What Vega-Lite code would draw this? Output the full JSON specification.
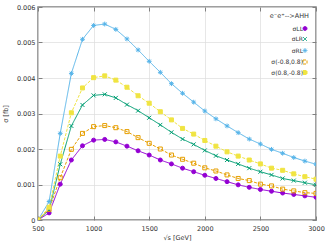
{
  "$schema": "https://vega.github.io/schema/vega-lite/v6.json",
  "width": 278,
  "height": 213,
  "autosize": {"type": "none"},
  "padding": {"left": 38, "top": 7, "right": 11, "bottom": 25},
  "config": {
    "font": "DejaVu Sans",
    "view": {"stroke": "#808080", "strokeWidth": 1.5},
    "axis": {
      "labelFont": "DejaVu Sans", "labelFontSize": 6.5, "labelColor": "#333",
      "titleFont": "DejaVu Sans", "titleFontSize": 6.5, "titleFontWeight": "normal", "titleColor": "#333",
      "domain": false, "gridColor": "#dddddd", "gridWidth": 0.7,
      "tickColor": "#808080", "tickSize": -4, "tickWidth": 1
    },
    "legend": {"labelFont": "DejaVu Sans", "titleFont": "DejaVu Sans"}
  },
  "data": {"values": [
    {"s":500,"series":"σLL","sigma":0},{"s":600,"series":"σLL","sigma":0.0002},{"s":700,"series":"σLL","sigma":0.00101},{"s":800,"series":"σLL","sigma":0.00169},{"s":900,"series":"σLL","sigma":0.00209},{"s":1000,"series":"σLL","sigma":0.00225},{"s":1100,"series":"σLL","sigma":0.00227},{"s":1200,"series":"σLL","sigma":0.0022},{"s":1300,"series":"σLL","sigma":0.00208},{"s":1400,"series":"σLL","sigma":0.00195},{"s":1500,"series":"σLL","sigma":0.00183},{"s":1600,"series":"σLL","sigma":0.00169},{"s":1700,"series":"σLL","sigma":0.00158},{"s":1800,"series":"σLL","sigma":0.00146},{"s":1900,"series":"σLL","sigma":0.00136},{"s":2000,"series":"σLL","sigma":0.00126},{"s":2100,"series":"σLL","sigma":0.00117},{"s":2200,"series":"σLL","sigma":0.00108},{"s":2300,"series":"σLL","sigma":0.00099},{"s":2400,"series":"σLL","sigma":0.00092},{"s":2500,"series":"σLL","sigma":0.00086},{"s":2600,"series":"σLL","sigma":0.00081},{"s":2700,"series":"σLL","sigma":0.00076},{"s":2800,"series":"σLL","sigma":0.00072},{"s":2900,"series":"σLL","sigma":0.00068},{"s":3000,"series":"σLL","sigma":0.00064},
    {"s":500,"series":"σLR","sigma":0},{"s":600,"series":"σLR","sigma":0.00028},{"s":700,"series":"σLR","sigma":0.00157},{"s":800,"series":"σLR","sigma":0.00265},{"s":900,"series":"σLR","sigma":0.00324},{"s":1000,"series":"σLR","sigma":0.00351},{"s":1100,"series":"σLR","sigma":0.00354},{"s":1200,"series":"σLR","sigma":0.00344},{"s":1300,"series":"σLR","sigma":0.00325},{"s":1400,"series":"σLR","sigma":0.00308},{"s":1500,"series":"σLR","sigma":0.00288},{"s":1600,"series":"σLR","sigma":0.00268},{"s":1700,"series":"σLR","sigma":0.00247},{"s":1800,"series":"σLR","sigma":0.00228},{"s":1900,"series":"σLR","sigma":0.00213},{"s":2000,"series":"σLR","sigma":0.00196},{"s":2100,"series":"σLR","sigma":0.00181},{"s":2200,"series":"σLR","sigma":0.00169},{"s":2300,"series":"σLR","sigma":0.00158},{"s":2400,"series":"σLR","sigma":0.00146},{"s":2500,"series":"σLR","sigma":0.00136},{"s":2600,"series":"σLR","sigma":0.00127},{"s":2700,"series":"σLR","sigma":0.00117},{"s":2800,"series":"σLR","sigma":0.00111},{"s":2900,"series":"σLR","sigma":0.00105},{"s":3000,"series":"σLR","sigma":0.00099},
    {"s":500,"series":"σRL","sigma":0},{"s":600,"series":"σRL","sigma":0.00052},{"s":700,"series":"σRL","sigma":0.00244},{"s":800,"series":"σRL","sigma":0.00413},{"s":900,"series":"σRL","sigma":0.00509},{"s":1000,"series":"σRL","sigma":0.00548},{"s":1100,"series":"σRL","sigma":0.00552},{"s":1200,"series":"σRL","sigma":0.00537},{"s":1300,"series":"σRL","sigma":0.0051},{"s":1400,"series":"σRL","sigma":0.00479},{"s":1500,"series":"σRL","sigma":0.00447},{"s":1600,"series":"σRL","sigma":0.00416},{"s":1700,"series":"σRL","sigma":0.00384},{"s":1800,"series":"σRL","sigma":0.00357},{"s":1900,"series":"σRL","sigma":0.00332},{"s":2000,"series":"σRL","sigma":0.00307},{"s":2100,"series":"σRL","sigma":0.00285},{"s":2200,"series":"σRL","sigma":0.00265},{"s":2300,"series":"σRL","sigma":0.00246},{"s":2400,"series":"σRL","sigma":0.00228},{"s":2500,"series":"σRL","sigma":0.00214},{"s":2600,"series":"σRL","sigma":0.00199},{"s":2700,"series":"σRL","sigma":0.00188},{"s":2800,"series":"σRL","sigma":0.00176},{"s":2900,"series":"σRL","sigma":0.00166},{"s":3000,"series":"σRL","sigma":0.00157},
    {"s":500,"series":"σ(-0.8,0.8)","sigma":0},{"s":600,"series":"σ(-0.8,0.8)","sigma":0.0003},{"s":700,"series":"σ(-0.8,0.8)","sigma":0.00119},{"s":800,"series":"σ(-0.8,0.8)","sigma":0.00199},{"s":900,"series":"σ(-0.8,0.8)","sigma":0.00244},{"s":1000,"series":"σ(-0.8,0.8)","sigma":0.00263},{"s":1100,"series":"σ(-0.8,0.8)","sigma":0.00266},{"s":1200,"series":"σ(-0.8,0.8)","sigma":0.0026},{"s":1300,"series":"σ(-0.8,0.8)","sigma":0.00249},{"s":1400,"series":"σ(-0.8,0.8)","sigma":0.00232},{"s":1500,"series":"σ(-0.8,0.8)","sigma":0.00216},{"s":1600,"series":"σ(-0.8,0.8)","sigma":0.002},{"s":1700,"series":"σ(-0.8,0.8)","sigma":0.00183},{"s":1800,"series":"σ(-0.8,0.8)","sigma":0.00171},{"s":1900,"series":"σ(-0.8,0.8)","sigma":0.0016},{"s":2000,"series":"σ(-0.8,0.8)","sigma":0.00147},{"s":2100,"series":"σ(-0.8,0.8)","sigma":0.00138},{"s":2200,"series":"σ(-0.8,0.8)","sigma":0.00127},{"s":2300,"series":"σ(-0.8,0.8)","sigma":0.00117},{"s":2400,"series":"σ(-0.8,0.8)","sigma":0.00111},{"s":2500,"series":"σ(-0.8,0.8)","sigma":0.00101},{"s":2600,"series":"σ(-0.8,0.8)","sigma":0.00096},{"s":2700,"series":"σ(-0.8,0.8)","sigma":0.00087},{"s":2800,"series":"σ(-0.8,0.8)","sigma":0.00082},{"s":2900,"series":"σ(-0.8,0.8)","sigma":0.00077},{"s":3000,"series":"σ(-0.8,0.8)","sigma":0.00075},
    {"s":500,"series":"σ(0.8,-0.8)","sigma":0},{"s":600,"series":"σ(0.8,-0.8)","sigma":0.00036},{"s":700,"series":"σ(0.8,-0.8)","sigma":0.0018},{"s":800,"series":"σ(0.8,-0.8)","sigma":0.00302},{"s":900,"series":"σ(0.8,-0.8)","sigma":0.00372},{"s":1000,"series":"σ(0.8,-0.8)","sigma":0.00401},{"s":1100,"series":"σ(0.8,-0.8)","sigma":0.00406},{"s":1200,"series":"σ(0.8,-0.8)","sigma":0.00394},{"s":1300,"series":"σ(0.8,-0.8)","sigma":0.00374},{"s":1400,"series":"σ(0.8,-0.8)","sigma":0.0035},{"s":1500,"series":"σ(0.8,-0.8)","sigma":0.00329},{"s":1600,"series":"σ(0.8,-0.8)","sigma":0.00305},{"s":1700,"series":"σ(0.8,-0.8)","sigma":0.00282},{"s":1800,"series":"σ(0.8,-0.8)","sigma":0.00258},{"s":1900,"series":"σ(0.8,-0.8)","sigma":0.00242},{"s":2000,"series":"σ(0.8,-0.8)","sigma":0.00224},{"s":2100,"series":"σ(0.8,-0.8)","sigma":0.00208},{"s":2200,"series":"σ(0.8,-0.8)","sigma":0.00192},{"s":2300,"series":"σ(0.8,-0.8)","sigma":0.0018},{"s":2400,"series":"σ(0.8,-0.8)","sigma":0.00169},{"s":2500,"series":"σ(0.8,-0.8)","sigma":0.00158},{"s":2600,"series":"σ(0.8,-0.8)","sigma":0.00146},{"s":2700,"series":"σ(0.8,-0.8)","sigma":0.0014},{"s":2800,"series":"σ(0.8,-0.8)","sigma":0.0013},{"s":2900,"series":"σ(0.8,-0.8)","sigma":0.00122},{"s":3000,"series":"σ(0.8,-0.8)","sigma":0.00115}
  ]},
  "resolve": {"axis": {"x": "independent", "y": "independent"}},
  "layer": [
    {
      "mark": {"type": "line", "strokeWidth": 1, "clip": true},
      "encoding": {
        "x": {"field": "s", "type": "quantitative", "scale": {"domain": [500, 3000], "nice": false},
              "axis": {"title": "√s [GeV]", "values": [500,1000,1500,2000,2500,3000], "format": "d", "labelPadding": 9, "titlePadding": 3, "labelFlush": false}},
        "y": {"field": "sigma", "type": "quantitative", "scale": {"domain": [0, 0.006], "nice": false},
              "axis": {"title": "σ [fb]", "values": [0,0.001,0.002,0.003,0.004,0.005,0.006], "format": "~g", "labelPadding": 7, "titlePadding": 8, "labelFlush": false}},
        "stroke": {"field": "series", "type": "nominal",
                   "scale": {"domain": ["σLL","σLR","σRL","σ(-0.8,0.8)","σ(0.8,-0.8)"], "range": ["#9400D3","#009E73","#56B4E9","#E69F00","#F0E442"]},
                   "legend": {
                     "title": "e⁻e⁺-->AHH", "orient": "top-right", "offset": 6,
                     "titleFontSize": 6.5, "titleFontWeight": "normal", "titleColor": "#333", "titleAnchor": "end", "titlePadding": 6,
                     "labelFontSize": 6, "labelColor": "#333", "labelAlign": "right", "labelOffset": -5, "symbolOffset": 9,
                     "rowPadding": 2.5, "symbolSize": 16, "symbolStrokeWidth": 1,
                     "encode": {"symbols": {"update": {
                       "shape": {"value": {"expr": "datum.value === 'σLL' ? 'M-4.75,0L4.75,0M1,0A1,1 0 1,1 -1,0A1,1 0 1,1 1,0Z' : datum.value === 'σLR' ? 'M-4.75,0L4.75,0M-1,-1L1,1M-1,1L1,-1' : datum.value === 'σRL' ? 'M-4.75,0L4.75,0M-1.2,0L1.2,0M0,-1.2L0,1.2M-0.85,-0.85L0.85,0.85M-0.85,0.85L0.85,-0.85' : 'M-4.75,0H-3.25M-2.25,0H-1.1M1.1,0H2.25M3.25,0H4.75M-1,-1H1V1H-1Z'"}},
                       "fill": {"value": {"expr": "datum.value === 'σLL' ? '#9400D3' : datum.value === 'σ(0.8,-0.8)' ? '#F0E442' : 'transparent'"}},
                       "size": {"value": 16},
                       "strokeWidth": {"value": 1},
                       "opacity": {"value": 1}
                     }}}
                   }},
        "strokeDash": {"field": "series", "type": "nominal", "legend": null,
                       "scale": {"domain": ["σLL","σLR","σRL","σ(-0.8,0.8)","σ(0.8,-0.8)"], "range": [[1,0],[1,0],[1,0],[3,1.5],[3,1.5]]}}
      }
    },
    {
      "mark": {"type": "point", "strokeWidth": 1, "size": 16, "opacity": 1, "clip": true},
      "encoding": {
        "x": {"field": "s", "type": "quantitative", "axis": null},
        "y": {"field": "sigma", "type": "quantitative", "axis": null},
        "stroke": {"field": "series", "type": "nominal"},
        "fill": {"field": "series", "type": "nominal", "legend": null,
                 "scale": {"domain": ["σLL","σLR","σRL","σ(-0.8,0.8)","σ(0.8,-0.8)"], "range": ["#9400D3","transparent","transparent","transparent","#F0E442"]}},
        "shape": {"field": "series", "type": "nominal", "legend": null,
                  "scale": {"domain": ["σLL","σLR","σRL","σ(-0.8,0.8)","σ(0.8,-0.8)"], "range": ["circle","M-1,-1L1,1M-1,1L1,-1","M-1.2,0L1.2,0M0,-1.2L0,1.2M-0.85,-0.85L0.85,0.85M-0.85,0.85L0.85,-0.85","square","square"]}}
      }
    },
    {
      "mark": {"type": "point", "opacity": 0},
      "encoding": {
        "x": {"field": "s", "type": "quantitative",
              "axis": {"orient": "top", "title": null, "labels": false, "grid": false, "values": [500,1000,1500,2000,2500,3000]}},
        "y": {"field": "sigma", "type": "quantitative",
              "axis": {"orient": "right", "title": null, "labels": false, "grid": false, "values": [0,0.001,0.002,0.003,0.004,0.005,0.006]}}
      }
    }
  ]
}
